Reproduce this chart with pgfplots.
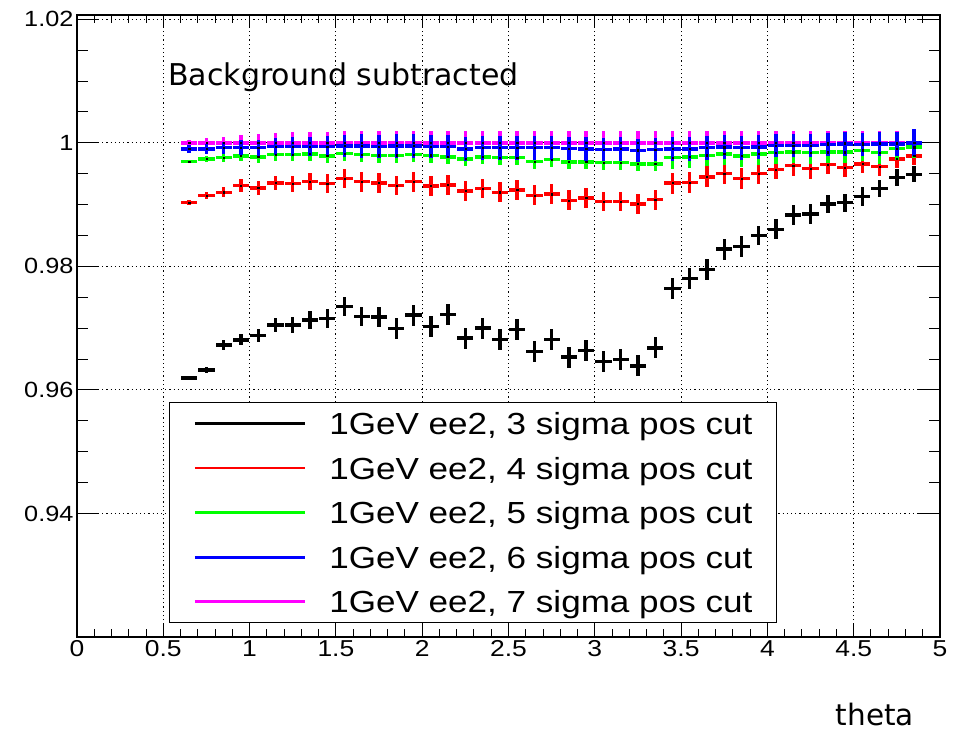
\documentclass[border=0pt]{standalone}
\usepackage{fontspec}
\setmainfont{Liberation Sans}
\newfontfamily\rootfont[FakeStretch=1.15]{Liberation Sans}
\newfontfamily\labfont{DejaVu Sans}
\usepackage{pgfplots}
\usepackage{pgfplotstable}
\pgfplotsset{compat=1.18}

\pgfplotstableread{
x y e
0.65 0.9619 0.0003
0.75 0.9632 0.0005
0.85 0.9673 0.0008
0.95 0.9681 0.0009
1.05 0.9688 0.0011
1.15 0.9705 0.0012
1.25 0.9705 0.0013
1.35 0.9713 0.0014
1.45 0.9716 0.0015
1.55 0.9735 0.0016
1.65 0.9719 0.0016
1.75 0.9718 0.0016
1.85 0.9699 0.0017
1.95 0.9721 0.0017
2.05 0.9703 0.0017
2.15 0.9722 0.0017
2.25 0.9684 0.0017
2.35 0.9700 0.0017
2.45 0.9682 0.0017
2.55 0.9698 0.0017
2.65 0.9662 0.0017
2.75 0.9682 0.0017
2.85 0.9653 0.0017
2.95 0.9664 0.0017
3.05 0.9646 0.0017
3.15 0.9649 0.0017
3.25 0.9639 0.0017
3.35 0.9668 0.0017
3.45 0.9764 0.0017
3.55 0.9780 0.0017
3.65 0.9795 0.0017
3.75 0.9828 0.0017
3.85 0.9832 0.0017
3.95 0.9850 0.0016
4.05 0.9860 0.0016
4.15 0.9883 0.0016
4.25 0.9885 0.0016
4.35 0.9901 0.0015
4.45 0.9903 0.0015
4.55 0.9913 0.0015
4.65 0.9926 0.0014
4.75 0.9944 0.0014
4.85 0.9949 0.0013
}\blacktab

\pgfplotstableread{
x y e
0.65 0.9903 0.0004
0.75 0.9915 0.0006
0.85 0.9920 0.0008
0.95 0.9931 0.0010
1.05 0.9927 0.0011
1.15 0.9935 0.0012
1.25 0.9934 0.0013
1.35 0.9937 0.0014
1.45 0.9934 0.0015
1.55 0.9942 0.0015
1.65 0.9937 0.0016
1.75 0.9935 0.0016
1.85 0.9931 0.0016
1.95 0.9937 0.0016
2.05 0.9930 0.0016
2.15 0.9932 0.0016
2.25 0.9922 0.0016
2.35 0.9926 0.0016
2.45 0.9920 0.0016
2.55 0.9924 0.0016
2.65 0.9915 0.0016
2.75 0.9917 0.0016
2.85 0.9907 0.0016
2.95 0.9911 0.0016
3.05 0.9905 0.0016
3.15 0.9905 0.0016
3.25 0.9901 0.0016
3.35 0.9908 0.0016
3.45 0.9935 0.0017
3.55 0.9936 0.0017
3.65 0.9945 0.0017
3.75 0.9950 0.0017
3.85 0.9942 0.0017
3.95 0.9950 0.0017
4.05 0.9957 0.0016
4.15 0.9963 0.0016
4.25 0.9958 0.0016
4.35 0.9965 0.0016
4.45 0.9960 0.0016
4.55 0.9966 0.0015
4.65 0.9962 0.0015
4.75 0.9974 0.0015
4.85 0.9979 0.0015
}\redtab

\pgfplotstableread{
x y e
0.65 0.9970 0.0003
0.75 0.9974 0.0005
0.85 0.9976 0.0007
0.95 0.9979 0.0008
1.05 0.9977 0.0009
1.15 0.9981 0.0010
1.25 0.9981 0.0011
1.35 0.9982 0.0011
1.45 0.9979 0.0012
1.55 0.9983 0.0012
1.65 0.9981 0.0012
1.75 0.9980 0.0012
1.85 0.9980 0.0012
1.95 0.9981 0.0012
2.05 0.9980 0.0012
2.15 0.9977 0.0012
2.25 0.9974 0.0012
2.35 0.9977 0.0012
2.45 0.9976 0.0012
2.55 0.9976 0.0012
2.65 0.9970 0.0012
2.75 0.9973 0.0012
2.85 0.9969 0.0012
2.95 0.9969 0.0012
3.05 0.9968 0.0012
3.15 0.9968 0.0012
3.25 0.9966 0.0012
3.35 0.9966 0.0012
3.45 0.9976 0.0018
3.55 0.9977 0.0018
3.65 0.9980 0.0018
3.75 0.9982 0.0018
3.85 0.9979 0.0018
3.95 0.9982 0.0018
4.05 0.9984 0.0018
4.15 0.9985 0.0018
4.25 0.9984 0.0018
4.35 0.9985 0.0018
4.45 0.9985 0.0018
4.55 0.9988 0.0018
4.65 0.9984 0.0018
4.75 0.9991 0.0018
4.85 0.9993 0.0018
}\greentab

\pgfplotstableread{
x y e
0.65 0.9990 0.0006
0.75 0.9990 0.0008
0.85 0.9992 0.0010
0.95 0.9992 0.0012
1.05 0.9992 0.0013
1.15 0.9994 0.0014
1.25 0.9994 0.0015
1.35 0.9994 0.0016
1.45 0.9994 0.0017
1.55 0.9995 0.0018
1.65 0.9995 0.0019
1.75 0.9994 0.0019
1.85 0.9995 0.0019
1.95 0.9995 0.0019
2.05 0.9994 0.0019
2.15 0.9994 0.0019
2.25 0.9990 0.0019
2.35 0.9992 0.0019
2.45 0.9992 0.0019
2.55 0.9992 0.0019
2.65 0.9992 0.0019
2.75 0.9992 0.0019
2.85 0.9991 0.0019
2.95 0.9990 0.0019
3.05 0.9989 0.0019
3.15 0.9990 0.0019
3.25 0.9988 0.0019
3.35 0.9989 0.0019
3.45 0.9990 0.0019
3.55 0.9990 0.0019
3.65 0.9992 0.0019
3.75 0.9993 0.0019
3.85 0.9992 0.0019
3.95 0.9993 0.0019
4.05 0.9996 0.0019
4.15 0.9996 0.0019
4.25 0.9996 0.0019
4.35 0.9997 0.0019
4.45 0.9998 0.0019
4.55 0.9997 0.0019
4.65 0.9998 0.0019
4.75 0.9998 0.0019
4.85 1.0000 0.0022
}\bluetab

\pgfplotstableread{
x y e
0.65 1.0000 0.0005
0.75 1.0000 0.0008
0.85 1.0000 0.0010
0.95 1.0000 0.0013
1.05 1.0000 0.0014
1.15 1.0000 0.0016
1.25 1.0000 0.0017
1.35 1.0000 0.0018
1.45 1.0000 0.0018
1.55 1.0000 0.0019
1.65 1.0000 0.0019
1.75 1.0000 0.0019
1.85 1.0000 0.0019
1.95 1.0000 0.0019
2.05 1.0000 0.0019
2.15 1.0000 0.0019
2.25 1.0000 0.0019
2.35 1.0000 0.0019
2.45 1.0000 0.0019
2.55 1.0000 0.0019
2.65 1.0000 0.0019
2.75 1.0000 0.0019
2.85 1.0000 0.0019
2.95 1.0000 0.0019
3.05 1.0000 0.0019
3.15 1.0000 0.0019
3.25 1.0000 0.0019
3.35 1.0000 0.0019
3.45 1.0000 0.0019
3.55 1.0000 0.0019
3.65 1.0000 0.0019
3.75 1.0000 0.0019
3.85 1.0000 0.0019
3.95 1.0000 0.0019
4.05 1.0000 0.0019
4.15 1.0000 0.0019
4.25 1.0000 0.0019
4.35 1.0000 0.0019
4.45 1.0000 0.0019
4.55 1.0000 0.0019
4.65 1.0000 0.0019
4.75 1.0000 0.0020
4.85 1.0000 0.0020
}\magtab

\definecolor{rgreen}{RGB}{0,255,0}
\definecolor{rblue}{RGB}{0,0,255}
\definecolor{rred}{RGB}{255,0,0}
\definecolor{rmag}{RGB}{255,0,255}

\pgfplotsset{
  errstyle/.style={forget plot, only marks, mark=square*, mark size=0.6pt,
    mark options={fill=black, draw=none},
    error bars/.cd, x dir=both, x fixed=0.047, y dir=both, y explicit,
    error mark=none, error bar style={line width=3.4pt, #1}},
}

\begin{document}
\begin{tikzpicture}
\useasboundingbox (-77pt,-105pt) rectangle (887pt,637pt);
\begin{axis}[
  at={(0pt,0pt)}, anchor=south west,
  scale only axis, width=863pt, height=622pt,
  xmin=0, xmax=5, ymin=0.92, ymax=1.0207,
  xtick={0,0.5,1,1.5,2,2.5,3,3.5,4,4.5,5},
  xticklabels={0,0.5,1,1.5,2,2.5,3,3.5,4,4.5,5},
  ytick={0.94,0.96,0.98,1,1.02},
  yticklabels={0.94,0.96,0.98,1,1.02},
  minor x tick num=4, minor y tick num=3,
  tick align=inside,
  major tick length=22pt, minor tick length=11pt,
  xtick style={/pgfplots/major tick length=13pt, /pgfplots/minor tick length=8pt},
  every tick/.style={black, line width=1pt},
  grid=major,
  major grid style={black, line width=1pt, dash pattern=on 1.2pt off 3pt},
  axis line style={line width=1.5pt},
  x tick label style={font=\rootfont\fontsize{23}{27}\selectfont},
  y tick label style={font=\rootfont\fontsize{22}{26}\selectfont},
  xlabel={theta},
  xlabel style={at={(axis description cs:1,0)}, anchor=base east, xshift=-26pt, yshift=-88pt, inner sep=0pt, font=\labfont\fontsize{29.5}{34}\selectfont},
  legend style={at={(0.1066,0.022)}, anchor=south west,
    draw=black, line width=1pt, fill=white,
    inner xsep=24pt, inner ysep=10pt,
    row sep=22.6pt, column sep=23pt,
    font=\rootfont\fontsize{30.5}{36}\selectfont,
    nodes={inner sep=0pt, text height=22pt, text depth=0pt}},
  legend cell align=left,
  legend image code/.code={\draw[#1, line width=2.8pt] (0pt,0pt) -- (110pt,0pt);},
]
\addlegendimage{black}
\addlegendentry{1GeV ee2, 3 sigma pos cut\hspace{22pt}}
\addlegendimage{rred}
\addlegendentry{1GeV ee2, 4 sigma pos cut\hspace{22pt}}
\addlegendimage{rgreen}
\addlegendentry{1GeV ee2, 5 sigma pos cut\hspace{22pt}}
\addlegendimage{rblue}
\addlegendentry{1GeV ee2, 6 sigma pos cut\hspace{22pt}}
\addlegendimage{rmag}
\addlegendentry{1GeV ee2, 7 sigma pos cut\hspace{22pt}}

\addplot[errstyle=black] table[x=x, y=y, y error=e] {\blacktab};
\addplot[errstyle=rred] table[x=x, y=y, y error=e] {\redtab};
\addplot[errstyle=rgreen] table[x=x, y=y, y error=e] {\greentab};
\addplot[errstyle=rmag] table[x=x, y=y, y error=e] {\magtab};
\addplot[errstyle=rblue] table[x=x, y=y, y error=e] {\bluetab};

\node[anchor=base west, inner sep=0pt, font=\labfont\fontsize{30}{36}\selectfont] at (axis description cs:0.1055,0.8863) {Background subtracted};
\end{axis}
\end{tikzpicture}
\end{document}
